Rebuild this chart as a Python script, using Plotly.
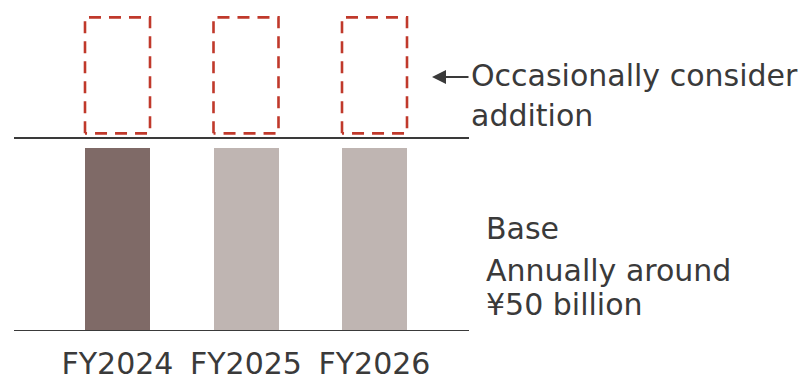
import plotly.graph_objects as go

# Shareholder return plan: base amount each year plus an optional top-up
years = ["FY2024", "FY2025", "FY2026"]
base_amount = [50, 50, 50]            # ¥ billion, annual base
addition_low = [54.0, 54.0, 54.0]     # optional addition (schematic range)
addition_high = [85.7, 85.7, 85.7]
base_ceiling = 52.7                   # upper reference line above the base bars

W, H = 803, 381
PLOT_BOTTOM = 331                     # pixel row of the zero line
PX_PER_UNIT = 3.66
X0_PX, STEP_PX = 117.5, 128.5         # first bar centre and spacing

TEXT = "#3a3a3a"
RED = "#c0392b"
FONT = "DejaVu Sans"
FS = 30
bar_colors = ["#7f6a67", "#bfb5b2", "#bfb5b2"]
bar_w = 65 / STEP_PX

idx = list(range(len(years)))


def xd(px):
    return (px - X0_PX) / STEP_PX


def yd(py):
    return (PLOT_BOTTOM - py) / PX_PER_UNIT


fig = go.Figure()

fig.add_trace(go.Bar(
    x=idx, y=base_amount, width=bar_w,
    marker=dict(color=bar_colors, line=dict(width=0)),
    hoverinfo="skip", showlegend=False,
))

# dashed outlines for the occasional addition
for i, lo, hi in zip(idx, addition_low, addition_high):
    l, r = i - bar_w / 2, i + bar_w / 2
    fig.add_trace(go.Scatter(
        x=[l, l, r, r, l], y=[lo, hi, hi, lo, lo],
        mode="lines",
        line=dict(color=RED, width=2.6, dash="12px,8px"),
        hoverinfo="skip", showlegend=False,
    ))

# zero line and base ceiling line
for yv in (0, base_ceiling):
    fig.add_shape(type="line", xref="x", yref="y",
                  x0=xd(14), x1=xd(469), y0=yv, y1=yv,
                  line=dict(color=TEXT, width=2), layer="above")

# arrow pointing to the dashed boxes
fig.add_annotation(
    x=xd(432), y=yd(77), xref="x", yref="y",
    ax=xd(470), ay=yd(77), axref="x", ayref="y",
    text="", showarrow=True, arrowhead=2, arrowsize=1.4,
    arrowwidth=2, arrowcolor=TEXT,
)


def label(text, px, baseline):
    fig.add_annotation(
        text=text, x=px / W, y=(PLOT_BOTTOM - (baseline - 11)) / PLOT_BOTTOM,
        xref="paper", yref="paper", xanchor="left", yanchor="middle",
        showarrow=False, font=dict(family=FONT, size=FS, color=TEXT),
    )


label("Occasionally consider", 469, 87)
label("addition", 469, 127)
label("Base", 484, 239)
label("Annually around", 484, 281)
label("¥50 billion", 484, 315)

fig.update_layout(
    width=W, height=H,
    margin=dict(l=0, r=0, t=0, b=H - PLOT_BOTTOM, pad=0),
    paper_bgcolor="white", plot_bgcolor="white",
    xaxis=dict(
        range=[xd(0), xd(W)], tickvals=idx, ticktext=years,
        showgrid=False, zeroline=False, showline=False, ticks="",
        tickfont=dict(family=FONT, size=FS, color=TEXT),
        ticklabelstandoff=12, automargin=False, fixedrange=True,
    ),
    yaxis=dict(
        range=[0, PLOT_BOTTOM / PX_PER_UNIT], visible=False,
        showgrid=False, zeroline=False, automargin=False, fixedrange=True,
    ),
    bargap=0,
)

fig.write_html("out.html")
